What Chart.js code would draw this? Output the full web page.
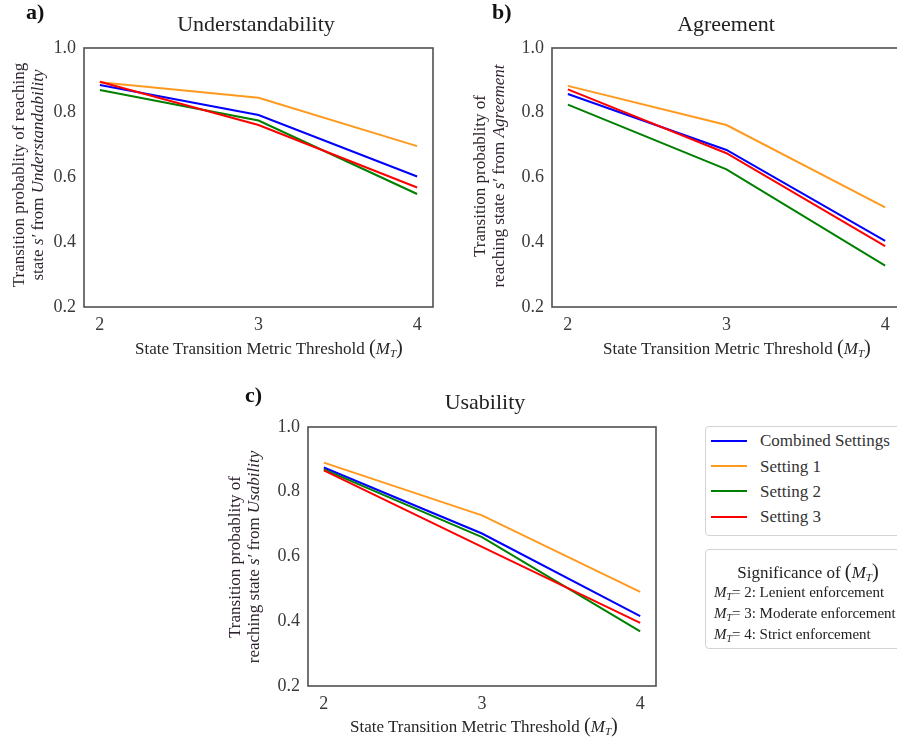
<!DOCTYPE html>
<html>
<head>
<meta charset="utf-8">
<script src="https://cdn.jsdelivr.net/npm/chart.js@4.4.1/dist/chart.umd.min.js"></script>
<style>
  html, body { margin:0; padding:0; background:#fff; }
  body { width:897px; height:740px; overflow:hidden; position:relative; font-family:"Liberation Serif","Times New Roman",serif; }
  canvas { position:absolute; }
  .t { position:absolute; line-height:1; white-space:nowrap; color:#222; }
  .ttl { font-size:22px; width:300px; text-align:center; }
  .pl { font-size:22px; font-weight:bold; color:#111; }
  .xt { font-size:17px; color:#262626; }
  .yt { position:absolute; width:300px; height:38px; line-height:19px; font-size:17px; text-align:center; transform:rotate(-90deg); white-space:nowrap; color:#2a1f2a; }
  .bp { font-size:1.2em; line-height:0; }
  sub { font-size:0.65em; line-height:0; vertical-align:-0.3em; }
  .box { position:absolute; border:1px solid #d4d4d4; border-radius:4px; background:#fff; }
  .lg { position:absolute; width:36px; height:2px; }
  .li { font-size:17px; color:#333; }
  .mi { font-size:15px; color:#222; }
</style>
</head>
<body>
<canvas id="ca" width="450" height="370" style="left:0;top:0"></canvas>
<canvas id="cb" width="410" height="370" style="left:500px;top:0"></canvas>
<canvas id="cc" width="420" height="360" style="left:250px;top:380px"></canvas>

<div class="t pl" style="left:26px;top:1px">a)</div>
<div class="t pl" style="left:492px;top:1px">b)</div>
<div class="t pl" style="left:245px;top:384px">c)</div>

<div class="t ttl" style="left:106px;top:12.6px">Understandability</div>
<div class="t ttl" style="left:576px;top:12.6px">Agreement</div>
<div class="t ttl" style="left:335px;top:390.6px">Usability</div>

<div class="t xt" style="left:135px;top:339.8px">State Transition Metric Threshold <span class="bp">(</span><i>M</i><sub><i>T</i></sub><span class="bp">)</span></div>
<div class="t xt" style="left:603px;top:339.8px">State Transition Metric Threshold <span class="bp">(</span><i>M</i><sub><i>T</i></sub><span class="bp">)</span></div>
<div class="t xt" style="left:350px;top:717.8px">State Transition Metric Threshold <span class="bp">(</span><i>M</i><sub><i>T</i></sub><span class="bp">)</span></div>

<div class="yt" style="left:-121.9px;top:156px">Transition probablity of reaching<br>state <i>s′</i> from <i>Understandability</i></div>
<div class="yt" style="left:339px;top:157px">Transition probablity of<br>reaching state <i>s′</i> from <i>Agreement</i></div>
<div class="yt" style="left:93.5px;top:538px">Transition probablity of<br>reaching state <i>s′</i> from <i>Usability</i></div>

<div class="box" style="left:705px;top:426px;width:220px;height:108px"></div>
<div id="legendItems"></div>

<div class="box" style="left:705px;top:549px;width:220px;height:98px"></div>
<div class="t li" style="left:658px;top:563.8px;width:300px;text-align:center;color:#222">Significance of <span class="bp">(</span><i>M</i><sub><i>T</i></sub><span class="bp">)</span></div>
<div class="t mi" style="left:714px;top:585.4px"><i>M</i><sub><i>T</i></sub>= 2: Lenient enforcement</div>
<div class="t mi" style="left:714px;top:606.4px"><i>M</i><sub><i>T</i></sub>= 3: Moderate enforcement</div>
<div class="t mi" style="left:714px;top:627.4px"><i>M</i><sub><i>T</i></sub>= 4: Strict enforcement</div>

<script>
// ---- data ----
const thresholds = [2, 3, 4];
const yTickValues = [0.2, 0.4, 0.6, 0.8, 1.0];
const seriesNames = ['Combined Settings', 'Setting 1', 'Setting 2', 'Setting 3'];

const understandCombined = [0.886, 0.793, 0.603];
const understandS1       = [0.894, 0.846, 0.697];
const understandS2       = [0.870, 0.776, 0.549];
const understandS3       = [0.896, 0.762, 0.569];

const agreeCombined = [0.858, 0.685, 0.404];
const agreeS1       = [0.883, 0.762, 0.508];
const agreeS2       = [0.825, 0.625, 0.328];
const agreeS3       = [0.872, 0.675, 0.388];

const usabCombined = [0.875, 0.671, 0.416];
const usabS1       = [0.890, 0.727, 0.491];
const usabS2       = [0.869, 0.660, 0.369];
const usabS3       = [0.866, 0.630, 0.395];

// ---- styles ----
const seriesColors = ['#0000ff', '#ff9a1f', '#008000', '#ff0000'];
const seriesOrder = [3, 2, 1, 0];

// legend (HTML)
const legendY = [440.7, 466, 491.3, 516.7];
const lgRoot = document.getElementById('legendItems');
seriesNames.forEach((name, i) => {
  const ln = document.createElement('div');
  ln.className = 'lg';
  ln.style.left = '711px';
  ln.style.top = (legendY[i] - 1) + 'px';
  ln.style.background = seriesColors[i];
  lgRoot.appendChild(ln);
  const tx = document.createElement('div');
  tx.className = 't li';
  tx.style.left = '760px';
  tx.style.top = (legendY[i] + 6 - 14.24) + 'px';
  tx.textContent = name;
  lgRoot.appendChild(tx);
});

const frame = {
  id: 'frame',
  afterDraw(chart) {
    const a = chart.chartArea, ctx = chart.ctx;
    ctx.save();
    ctx.strokeStyle = '#505050';
    ctx.lineWidth = 1.6;
    ctx.strokeRect(a.left, a.top, a.right - a.left, a.bottom - a.top);
    ctx.restore();
  }
};

function makeChart(id, seriesList, cfg) {
  const datasets = seriesList.map((vals, i) => ({
    label: seriesNames[i],
    data: thresholds.map((x, j) => ({ x: x, y: vals[j] })),
    borderColor: seriesColors[i],
    backgroundColor: seriesColors[i],
    borderWidth: 2,
    pointRadius: 0,
    tension: 0,
    fill: false,
    order: seriesOrder[i]
  }));
  const tickFont = { family: 'Liberation Serif', size: 18 };
  return new Chart(document.getElementById(id), {
    type: 'line',
    data: { datasets },
    options: {
      responsive: false,
      animation: false,
      devicePixelRatio: 1,
      layout: { padding: { top: cfg.top, right: cfg.right, left: 0, bottom: 0 } },
      plugins: { legend: { display: false }, tooltip: { enabled: false }, title: { display: false } },
      scales: {
        x: {
          type: 'linear', min: 1.9, max: 4.1,
          grid: { display: false, drawTicks: false },
          border: { display: false },
          afterBuildTicks: s => { s.ticks = thresholds.map(v => ({ value: v })); },
          afterFit: s => { s.height = cfg.xh; },
          ticks: { font: tickFont, color: '#3a3a3a', padding: 7, maxRotation: 0, callback: v => String(v) }
        },
        y: {
          type: 'linear', min: 0.2, max: 1.0,
          grid: { display: false, drawTicks: false },
          border: { display: false },
          afterBuildTicks: s => { s.ticks = yTickValues.map(v => ({ value: v })); },
          afterFit: s => { s.width = cfg.yw; },
          ticks: { font: tickFont, color: '#3a3a3a', padding: 8, callback: v => Number(v).toFixed(1) }
        }
      }
    },
    plugins: [frame]
  });
}

makeChart('ca', [understandCombined, understandS1, understandS2, understandS3], { top: 48, right: 17, xh: 63, yw: 84 });
makeChart('cb', [agreeCombined, agreeS1, agreeS2, agreeS3], { top: 48, right: 9, xh: 63, yw: 52 });
makeChart('cc', [usabCombined, usabS1, usabS2, usabS3], { top: 47, right: 14, xh: 54, yw: 58 });
</script>
</body>
</html>
